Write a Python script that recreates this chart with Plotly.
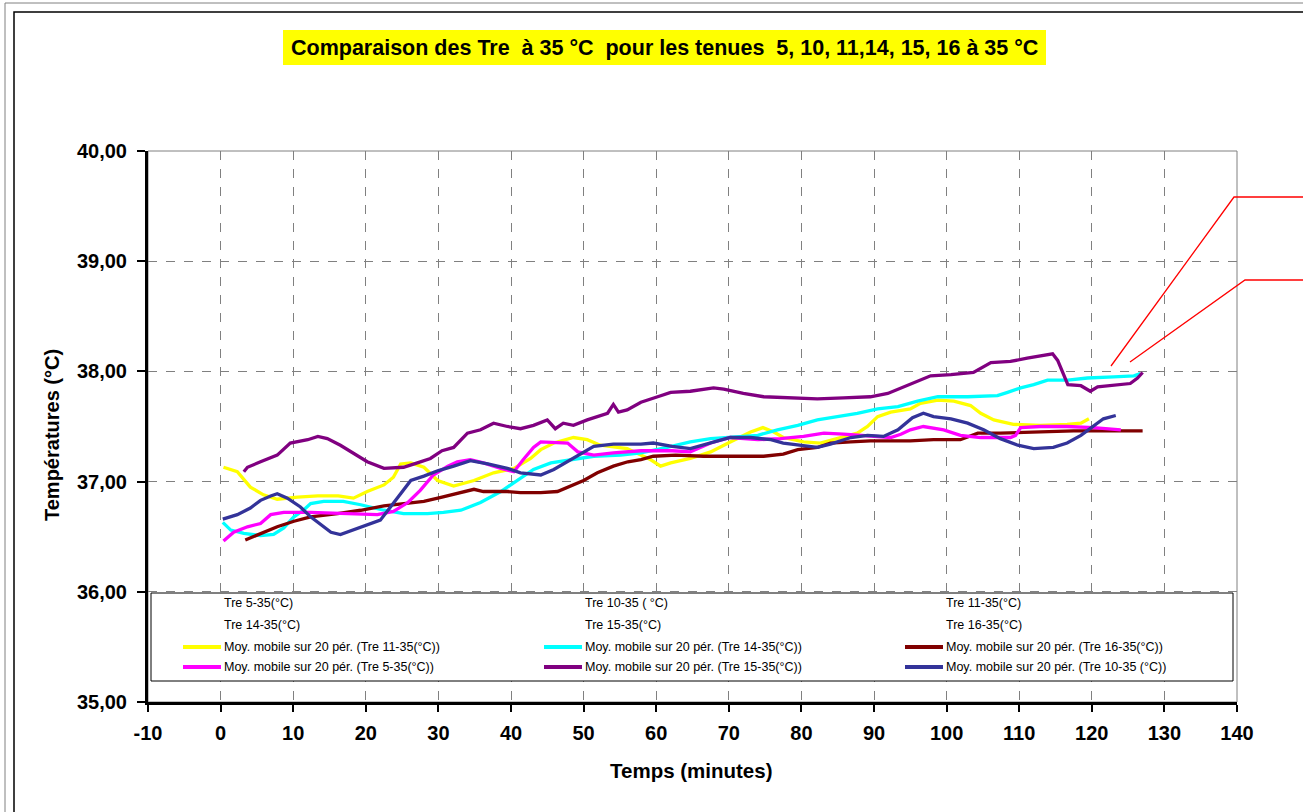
import plotly.graph_objects as go

# ---------------- data ----------------
yellow_t = [0.4, 2.3, 4.1, 5.9, 7.8, 10.6, 13.4, 16.2, 18.3, 20.2, 22.5, 23.8, 24.8, 26.2, 28.0, 29.9, 32.1, 34.9,
            37.6, 40.4, 42.7, 44.1, 45.9, 48.6, 50.5, 52.3, 56.0, 59.2, 60.6, 62.0, 64.7, 67.5, 70.2, 73.0, 74.7,
            76.2, 77.5, 80.3, 82.6, 85.4, 87.7, 89.1, 90.5, 92.3, 95.0, 96.4, 98.8, 101.0, 103.3, 104.7, 106.5,
            109.2, 112.9, 116.6, 118.5, 119.6]
yellow_v = [37.13, 37.09, 36.95, 36.88, 36.84, 36.86, 36.87, 36.87, 36.85, 36.91, 36.97, 37.04, 37.16, 37.17, 37.13,
            37.01, 36.96, 37.01, 37.08, 37.12, 37.21, 37.29, 37.35, 37.40, 37.38, 37.33, 37.30, 37.20, 37.14, 37.17,
            37.21, 37.27, 37.36, 37.45, 37.49, 37.45, 37.40, 37.36, 37.35, 37.40, 37.44, 37.50, 37.59, 37.63, 37.66,
            37.71, 37.74, 37.73, 37.69, 37.62, 37.56, 37.52, 37.51, 37.52, 37.53, 37.57]

cyan_t = [0.3, 1.4, 3.2, 5.5, 7.3, 8.7, 10.1, 11.4, 12.4, 14.2, 16.9, 19.3, 22.5, 25.2, 28.5, 30.7, 33.1, 35.8, 38.6,
          40.9, 43.1, 45.5, 48.6, 51.4, 55.1, 57.9, 61.5, 64.7, 67.5, 71.2, 74.0, 76.7, 79.5, 82.2, 85.0, 87.7, 90.5,
          93.3, 96.0, 98.8, 102.9, 107.0, 108.4, 110.2, 112.0, 113.9, 116.7, 119.4, 123.0, 125.8, 126.7]
cyan_v = [36.63, 36.56, 36.53, 36.51, 36.52, 36.58, 36.68, 36.74, 36.80, 36.82, 36.82, 36.79, 36.74, 36.71, 36.71,
          36.72, 36.74, 36.81, 36.91, 37.01, 37.11, 37.17, 37.20, 37.23, 37.24, 37.26, 37.31, 37.36, 37.39, 37.41,
          37.42, 37.47, 37.51, 37.56, 37.59, 37.62, 37.66, 37.68, 37.73, 37.77, 37.77, 37.78, 37.81, 37.85, 37.88,
          37.92, 37.92, 37.94, 37.95, 37.96, 37.98]

darkred_t = [3.4, 5.5, 7.8, 10.1, 12.4, 16.1, 19.3, 22.5, 25.2, 28.0, 30.5, 33.1, 34.9, 36.2, 39.5, 41.3, 44.1, 46.4,
             48.6, 50.0, 51.9, 54.1, 56.1, 57.9, 59.6, 62.7, 66.5, 71.2, 74.8, 77.5, 79.5, 82.2, 84.0, 86.8, 89.5,
             95.0, 98.2, 101.9, 104.3, 107.4, 112.0, 117.5, 122.2, 127.0]
darkred_v = [36.47, 36.53, 36.59, 36.64, 36.68, 36.71, 36.74, 36.78, 36.80, 36.82, 36.86, 36.90, 36.93, 36.91, 36.91,
             36.90, 36.90, 36.91, 36.97, 37.01, 37.08, 37.14, 37.18, 37.20, 37.23, 37.24, 37.23, 37.23, 37.23, 37.25,
             37.29, 37.31, 37.35, 37.36, 37.37, 37.37, 37.38, 37.38, 37.44, 37.44, 37.45, 37.46, 37.46, 37.46]

magenta_t = [0.4, 1.8, 3.7, 5.5, 6.9, 8.7, 12.4, 16.9, 21.6, 23.8, 25.8, 27.5, 29.3, 31.3, 32.6, 34.4, 36.2, 38.6,
             40.4, 41.7, 43.1, 44.1, 47.8, 49.2, 51.4, 54.1, 57.9, 62.2, 64.7, 67.5, 70.2, 74.0, 77.1, 80.3, 83.1,
             85.8, 89.5, 92.3, 93.7, 95.0, 96.8, 99.6, 101.9, 104.7, 108.8, 109.5, 110.2, 112.9, 116.6, 120.2, 124.0]
magenta_v = [36.46, 36.54, 36.59, 36.62, 36.70, 36.72, 36.72, 36.71, 36.70, 36.73, 36.81, 36.92, 37.06, 37.14, 37.18,
             37.20, 37.17, 37.12, 37.09, 37.20, 37.31, 37.36, 37.35, 37.27, 37.24, 37.26, 37.28, 37.28, 37.27, 37.35,
             37.40, 37.38, 37.39, 37.41, 37.44, 37.43, 37.41, 37.40, 37.43, 37.47, 37.50, 37.47, 37.42, 37.40, 37.40,
             37.42, 37.49, 37.50, 37.50, 37.49, 37.47]

purple_t = [3.2, 3.7, 5.5, 7.8, 9.6, 12.0, 13.4, 14.7, 16.5, 18.3, 20.2, 22.5, 25.2, 27.1, 28.9, 30.5, 32.1, 34.0,
            35.8, 37.6, 39.5, 41.3, 43.1, 45.0, 46.1, 47.2, 48.6, 50.5, 53.3, 54.1, 54.8, 56.0, 57.9, 60.2, 62.0,
            64.7, 67.9, 69.3, 72.0, 74.8, 78.5, 82.2, 85.8, 89.5, 91.9, 93.7, 95.5, 97.8, 100.6, 103.7, 106.1, 108.8,
            111.1, 113.4, 114.6, 115.3, 116.7, 118.5, 119.8, 120.8, 125.3, 126.3, 127.0]
purple_v = [37.09, 37.13, 37.18, 37.24, 37.35, 37.38, 37.41, 37.39, 37.33, 37.26, 37.18, 37.12, 37.13, 37.17, 37.21,
            37.28, 37.31, 37.44, 37.47, 37.53, 37.50, 37.48, 37.51, 37.56, 37.48, 37.53, 37.51, 37.56, 37.62, 37.70,
            37.63, 37.65, 37.72, 37.77, 37.81, 37.82, 37.85, 37.84, 37.80, 37.77, 37.76, 37.75, 37.76, 37.77, 37.80,
            37.85, 37.90, 37.96, 37.97, 37.99, 38.08, 38.09, 38.12, 38.15, 38.16, 38.10, 37.88, 37.87, 37.82, 37.86,
            37.89, 37.94, 37.99]

navy_t = [0.3, 2.3, 4.1, 5.5, 6.9, 7.8, 9.2, 11.0, 12.4, 13.8, 15.2, 16.5, 18.3, 20.2, 22.0, 23.4, 25.2, 26.2, 28.0,
          30.0, 32.1, 34.4, 36.8, 39.5, 41.3, 44.1, 45.9, 48.6, 51.4, 54.1, 57.9, 59.6, 62.2, 64.7, 67.5, 70.2, 73.0,
          75.8, 77.5, 80.3, 82.2, 84.0, 86.8, 89.1, 91.3, 93.3, 95.3, 96.8, 98.2, 100.6, 102.9, 105.1, 107.4, 109.8,
          112.0, 114.7, 116.6, 118.5, 120.2, 121.6, 123.3]
navy_v = [36.66, 36.70, 36.76, 36.83, 36.87, 36.89, 36.85, 36.77, 36.68, 36.61, 36.54, 36.52, 36.56, 36.61, 36.65,
          36.77, 36.92, 37.01, 37.05, 37.10, 37.14, 37.19, 37.16, 37.12, 37.08, 37.06, 37.11, 37.21, 37.32, 37.34,
          37.34, 37.35, 37.32, 37.30, 37.35, 37.40, 37.40, 37.38, 37.35, 37.33, 37.31, 37.34, 37.40, 37.42, 37.41,
          37.47, 37.58, 37.62, 37.59, 37.57, 37.53, 37.47, 37.39, 37.33, 37.30, 37.31, 37.35, 37.42, 37.50, 37.57,
          37.60]

x_ticks = [-10, 0, 10, 20, 30, 40, 50, 60, 70, 80, 90, 100, 110, 120, 130, 140]
y_ticks = [35, 36, 37, 38, 39, 40]
y_ticktext = ["35,00", "36,00", "37,00", "38,00", "39,00", "40,00"]

title_text = "Comparaison des Tre  à 35 °C  pour les tenues  5, 10, 11,14, 15, 16 à 35 °C"
x_title = "Temps (minutes)"
y_title = "Températures (°C)"

# legend grid (3 columns x 4 rows), None colour = raw series without visible symbol
legend_cols = [
    [("Tre 5-35(°C)", None), ("Tre 14-35(°C)", None),
     ("Moy. mobile sur 20 pér. (Tre 11-35(°C))", "#FFFF00"),
     ("Moy. mobile sur 20 pér. (Tre 5-35(°C))", "#FF00FF")],
    [("Tre 10-35 ( °C)", None), ("Tre 15-35(°C)", None),
     ("Moy. mobile sur 20 pér. (Tre 14-35(°C))", "#00FFFF"),
     ("Moy. mobile sur 20 pér. (Tre 15-35(°C))", "#800080")],
    [("Tre 11-35(°C)", None), ("Tre 16-35(°C)", None),
     ("Moy. mobile sur 20 pér. (Tre 16-35(°C))", "#800000"),
     ("Moy. mobile sur 20 pér. (Tre 10-35 (°C))", "#333399")],
]

series = [
    ("Moy. mobile sur 20 pér. (Tre 11-35(°C))", yellow_t, yellow_v, "#FFFF00"),
    ("Moy. mobile sur 20 pér. (Tre 14-35(°C))", cyan_t, cyan_v, "#00FFFF"),
    ("Moy. mobile sur 20 pér. (Tre 16-35(°C))", darkred_t, darkred_v, "#800000"),
    ("Moy. mobile sur 20 pér. (Tre 5-35(°C))", magenta_t, magenta_v, "#FF00FF"),
    ("Moy. mobile sur 20 pér. (Tre 15-35(°C))", purple_t, purple_v, "#800080"),
    ("Moy. mobile sur 20 pér. (Tre 10-35 (°C))", navy_t, navy_v, "#333399"),
]

# ---------------- layout geometry ----------------
W, H = 1303, 812
L, R, T, B = 148, 66, 151, 110
PW, PH = W - L - R, H - T - B


def px(x):
    return (x - L) / PW


def py(y):
    return (H - B - y) / PH


FONT = "Liberation Sans, Arial, sans-serif"

fig = go.Figure()
for name, t, v, c in series:
    fig.add_trace(go.Scatter(x=t, y=v, mode="lines", name=name,
                             line=dict(color=c, width=3.3), showlegend=False))

shapes = []
annotations = []

# outer double frame
shapes.append(dict(type="rect", xref="paper", yref="paper", x0=px(5), y0=py(3), x1=px(1330), y1=py(830),
                   line=dict(color="#808080", width=1), layer="above"))
shapes.append(dict(type="rect", xref="paper", yref="paper", x0=px(14), y0=py(12), x1=px(1330), y1=py(830),
                   line=dict(color="#000000", width=1.5), layer="above"))

# plot area thin gray border (top/right)
shapes.append(dict(type="rect", xref="paper", yref="paper", x0=0, y0=0, x1=1, y1=1,
                   line=dict(color="#808080", width=1), layer="below"))

# title box
shapes.append(dict(type="rect", xref="paper", yref="paper", x0=px(283), y0=py(65), x1=px(1046), y1=py(30),
                   fillcolor="#FFFF00", line=dict(width=0), layer="above"))
annotations.append(dict(text=title_text, xref="paper", yref="paper", x=px(664.5), y=py(47.5),
                        xanchor="center", yanchor="middle", showarrow=False,
                        font=dict(family=FONT, size=21.5, color="black", weight="bold")))

# legend box
shapes.append(dict(type="rect", xref="paper", yref="paper", x0=px(151), y0=py(681), x1=px(1233), y1=py(593),
                   fillcolor="white", line=dict(color="black", width=1), layer="above"))
col_x = [222, 583, 944]
row_y = [603, 625, 647, 667]
for ci, col in enumerate(legend_cols):
    for ri, (label, color) in enumerate(col):
        if color is not None:
            shapes.append(dict(type="line", xref="paper", yref="paper",
                               x0=px(col_x[ci] - 39), x1=px(col_x[ci] - 1), y0=py(row_y[ri]), y1=py(row_y[ri]),
                               line=dict(color=color, width=4), layer="above"))
        annotations.append(dict(text=label, xref="paper", yref="paper", x=px(col_x[ci]), y=py(row_y[ri]),
                                xanchor="left", yanchor="middle", showarrow=False,
                                font=dict(family=FONT, size=12.5, color="black")))

# red callout lines
shapes.append(dict(type="path", xref="paper", yref="paper",
                   path=f"M {px(1111)} {py(366)} L {px(1234)} {py(197)} L {px(1310)} {py(197)}",
                   line=dict(color="#FF0000", width=1.3), layer="above"))
shapes.append(dict(type="path", xref="paper", yref="paper",
                   path=f"M {px(1130)} {py(362)} L {px(1245)} {py(280)} L {px(1310)} {py(280)}",
                   line=dict(color="#FF0000", width=1.3), layer="above"))

# axis titles
annotations.append(dict(text=y_title, xref="paper", yref="paper", x=px(52), y=py(435), textangle=-90,
                        xanchor="center", yanchor="middle", showarrow=False,
                        font=dict(family=FONT, size=20, color="black", weight="bold")))
annotations.append(dict(text=x_title, xref="paper", yref="paper", x=px(691), y=py(770),
                        xanchor="center", yanchor="middle", showarrow=False,
                        font=dict(family=FONT, size=20.5, color="black", weight="bold")))

fig.update_layout(
    width=W, height=H,
    margin=dict(l=L, r=R, t=T, b=B, pad=0),
    paper_bgcolor="white", plot_bgcolor="white",
    showlegend=False,
    shapes=shapes, annotations=annotations,
    font=dict(family=FONT, color="black"),
)
fig.update_xaxes(range=[-10, 140], tickvals=x_ticks, ticktext=[str(v) for v in x_ticks],
                 showgrid=True, gridcolor="#808080", griddash="dash", gridwidth=1,
                 showline=True, linecolor="black", linewidth=3,
                 ticks="outside", ticklen=7, tickwidth=2, tickcolor="black",
                 ticklabelstandoff=4, zeroline=False,
                 tickfont=dict(family=FONT, size=20, color="black", weight="bold"))
fig.update_yaxes(range=[35, 40], tickvals=y_ticks, ticktext=y_ticktext,
                 showgrid=True, gridcolor="#808080", griddash="dash", gridwidth=1,
                 showline=True, linecolor="black", linewidth=3,
                 ticks="outside", ticklen=8, tickwidth=2, tickcolor="black",
                 ticklabelstandoff=6, zeroline=False,
                 tickfont=dict(family=FONT, size=20, color="black", weight="bold"))

fig.write_html("out.html", config={"displayModeBar": False},
               post_script="document.body.style.margin='0';document.body.style.overflow='hidden';")
